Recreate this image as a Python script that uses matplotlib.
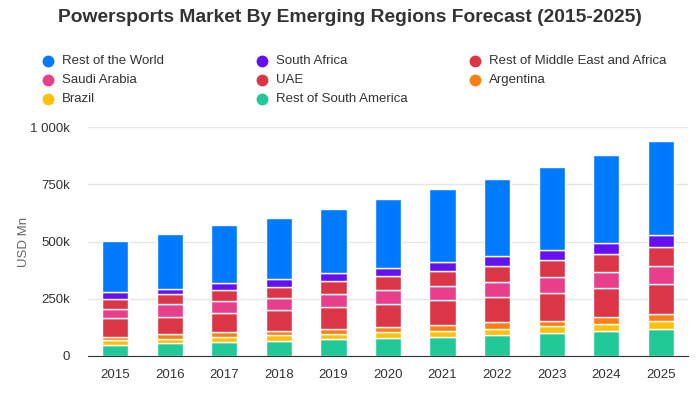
import numpy as np
import matplotlib
matplotlib.use('Agg')
import matplotlib.pyplot as plt
from matplotlib.lines import Line2D

plt.rcParams['font.family'] = ['Liberation Sans', 'DejaVu Sans']

years = ['2015', '2016', '2017', '2018', '2019', '2020', '2021', '2022', '2023', '2024', '2025']

# values in thousand USD Mn (bottom to top)
rest_south_america = [50, 55, 60, 64, 73, 77, 82, 90, 99, 108, 117]
brazil = [18, 21, 22, 26, 22, 26, 28, 30, 31, 30, 35]
argentina = [17, 18, 21, 18, 22, 23, 24, 27, 25, 31, 30]
uae = [79, 78, 84, 92, 96, 100, 109, 109, 119, 127, 131]
saudi_arabia = [43, 53, 53, 52, 56, 61, 61, 66, 70, 69, 79]
rest_mea = [44, 44, 47, 48, 57, 61, 66, 70, 74, 79, 83]
south_africa = [27, 25, 30, 35, 35, 35, 39, 43, 44, 48, 52]
rest_of_world = [224, 239, 255, 268, 280, 301, 320, 338, 363, 386, 412]

series = [
    ('Rest of South America', rest_south_america, '#20c997'),
    ('Brazil', brazil, '#ffc107'),
    ('Argentina', argentina, '#fd7e14'),
    ('UAE', uae, '#dc3545'),
    ('Saudi Arabia', saudi_arabia, '#e83e8c'),
    ('Rest of Middle East and Africa', rest_mea, '#dc3545'),
    ('South Africa', south_africa, '#6610f2'),
    ('Rest of the World', rest_of_world, '#007bff'),
]

fig = plt.figure(figsize=(7, 4), dpi=100)
ax = fig.add_axes([88 / 700, 1 - 356 / 400, 600 / 700, 229 / 400])

x = np.arange(len(years))
bottom = np.zeros(len(years))
for name, vals, col in series:
    v = np.array(vals) * 1000
    ax.bar(x, v, 0.48, bottom=bottom, color=col, edgecolor='white', linewidth=1, zorder=3)
    bottom += v

ax.set_xlim(-0.5, len(years) - 0.5)
ax.set_ylim(0, 1000000)
ax.set_yticks([0, 250000, 500000, 750000, 1000000])
ax.set_yticklabels(['0', '250k', '500k', '750k', '1 000k'])
ax.set_xticks(x)
ax.set_xticklabels(years)
ax.tick_params(axis='both', length=0, labelsize=9.5, labelcolor='#333333')
ax.tick_params(axis='y', pad=13)
ax.tick_params(axis='x', pad=9)
ax.grid(axis='y', color='#e6e6e6', linewidth=1, zorder=0)
for s in ['top', 'right', 'left']:
    ax.spines[s].set_visible(False)
ax.spines['bottom'].set_color('#333333')
ax.spines['bottom'].set_zorder(4)
ax.set_ylabel('USD Mn', fontsize=9.5, color='#666666', labelpad=0)

fig.text(0.5, 1 - 18 / 400, 'Powersports Market By Emerging Regions Forecast (2015-2025)',
         ha='center', va='center', fontsize=13.9, fontweight='bold', color='#333333')

# legend, laid out in rows like the original
legend_order = [
    ('Rest of the World', '#007bff'), ('South Africa', '#6610f2'), ('Rest of Middle East and Africa', '#dc3545'),
    ('Saudi Arabia', '#e83e8c'), ('UAE', '#dc3545'), ('Argentina', '#fd7e14'),
    ('Brazil', '#ffc107'), ('Rest of South America', '#20c997'),
]
col_x = [48, 262, 475]
row_y = [61, 80, 99]
for i, (name, col) in enumerate(legend_order):
    px = col_x[i % 3]
    py = row_y[i // 3]
    fig.add_artist(Line2D([px / 700], [1 - py / 400], marker='o', markersize=7.5,
                          color=col, linestyle='none', transform=fig.transFigure))
    fig.text((px + 14) / 700, 1 - py / 400, name, ha='left', va='center',
             fontsize=9.5, color='#333333')

fig.savefig('out.png', dpi=100)
